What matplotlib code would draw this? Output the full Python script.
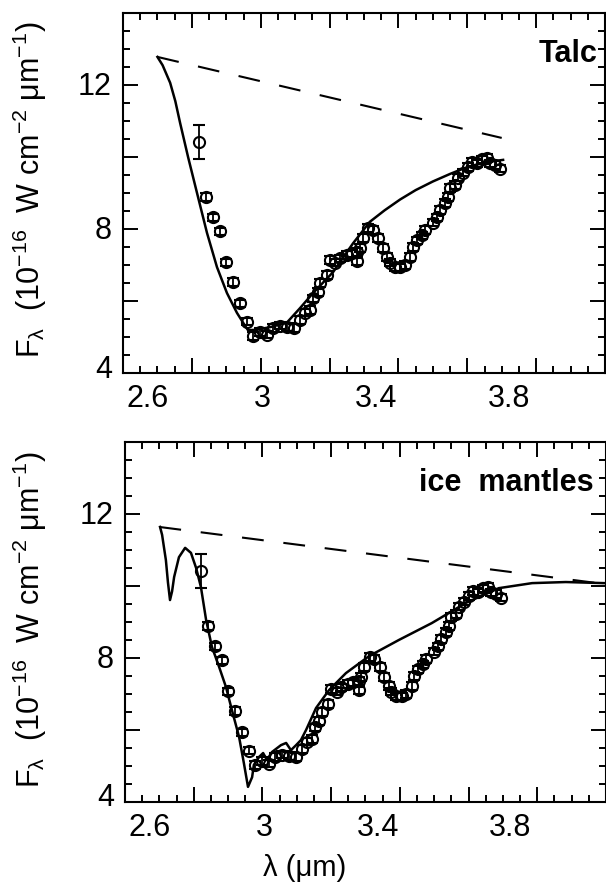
import matplotlib.pyplot as plt
from matplotlib.ticker import MultipleLocator, FuncFormatter
from matplotlib.transforms import ScaledTranslation

plt.rcParams['font.family'] = ['Liberation Sans', 'DejaVu Sans']
plt.rcParams['mathtext.default'] = 'regular'

# espectro observado (mismo en ambos paneles)
obs_wl = [2.821, 2.841, 2.861, 2.882, 2.899, 2.919, 2.940, 2.960, 2.978, 2.998,
          3.018, 3.036, 3.056, 3.076, 3.097, 3.114, 3.129, 3.143, 3.152, 3.166,
          3.172, 3.192, 3.201, 3.216, 3.230, 3.250, 3.265, 3.280, 3.280, 3.288,
          3.297, 3.312, 3.326, 3.341, 3.355, 3.367, 3.375, 3.390, 3.405, 3.419,
          3.434, 3.442, 3.454, 3.468, 3.477, 3.500, 3.512, 3.521, 3.535, 3.544,
          3.550, 3.564, 3.573, 3.588, 3.602, 3.614, 3.628, 3.643, 3.657, 3.666,
          3.680, 3.695]
obs_flux = [10.42, 8.89, 8.33, 7.94, 7.08, 6.53, 5.94, 5.42, 5.03, 5.14,
            5.06, 5.25, 5.31, 5.28, 5.25, 5.47, 5.67, 5.75, 6.08, 6.25,
            6.50, 6.72, 7.14, 7.06, 7.19, 7.28, 7.33, 7.36, 7.10, 7.47,
            7.75, 8.03, 7.97, 7.75, 7.47, 7.22, 7.06, 6.94, 6.94, 7.00,
            7.22, 7.50, 7.69, 7.83, 7.97, 8.17, 8.33, 8.53, 8.72, 8.89,
            9.14, 9.22, 9.42, 9.56, 9.72, 9.86, 9.83, 9.94, 9.97, 9.83,
            9.78, 9.67]
obs_err = [0.47] + [0.1] * (len(obs_wl) - 1)

# modelo talco
talc_wl = [2.700, 2.715, 2.737, 2.752, 2.766, 2.789, 2.815, 2.844, 2.873, 2.902,
           2.931, 2.950, 2.963, 2.990, 3.030, 3.076, 3.114, 3.152, 3.210, 3.268,
           3.317, 3.360, 3.405, 3.450, 3.500, 3.550, 3.600, 3.650, 3.704]
talc_flux = [12.78, 12.55, 12.06, 11.55, 10.94, 10.00, 9.00, 7.89, 6.94, 6.22,
             5.67, 5.38, 5.19, 5.20, 5.28, 5.40, 5.80, 6.22, 6.80, 7.60,
             8.20, 8.52, 8.82, 9.08, 9.32, 9.53, 9.72, 9.85, 9.92]
talc_cont_wl = [2.70, 3.70]
talc_cont_flux = [12.78, 10.53]

# modelo mantos de hielo
ice_wl = [2.702, 2.708, 2.713, 2.719, 2.725, 2.731, 2.737, 2.743, 2.757, 2.775,
          2.792, 2.807, 2.821, 2.836, 2.853, 2.874, 2.894, 2.911, 2.932, 2.946,
          2.958, 2.970, 2.975, 2.990, 3.002, 3.013, 3.028, 3.054, 3.069, 3.083,
          3.098, 3.112, 3.127, 3.156, 3.194, 3.243, 3.310, 3.397, 3.493, 3.592,
          3.688, 3.785, 3.883, 3.994]
ice_flux = [11.64, 11.42, 11.10, 10.72, 10.10, 9.61, 9.85, 10.25, 10.80, 11.06,
            10.92, 10.50, 9.97, 9.06, 8.31, 7.75, 7.19, 6.56, 5.81, 5.08,
            4.42, 4.69, 5.03, 5.25, 5.36, 5.17, 5.39, 5.58, 5.64, 5.44,
            5.58, 5.72, 6.00, 6.61, 7.11, 7.58, 8.05, 8.50, 8.97, 9.53,
            9.94, 10.08, 10.11, 10.08]
ice_cont_wl = [2.70, 4.00]
ice_cont_flux = [11.64, 10.05]

xlabels = {2.6: '2.6', 3.0: '3', 3.4: '3.4', 3.8: '3.8'}
ylabels = {4: '4', 8: '8', 12: '12'}
# desplazamiento (px) de las etiquetas como en la figura original
xshift = {2.6: 25, 3.0: 2, 3.4: -22, 3.8: -27}
yshift = {4: 7, 8: 2, 12: 2}


def fmt_x(v, pos):
    for k, s in xlabels.items():
        if abs(v - k) < 1e-6:
            return s
    return ''


def fmt_y(v, pos):
    for k, s in ylabels.items():
        if abs(v - k) < 1e-6:
            return s
    return ''


def mover_etiquetas(ax, fig):
    locs = ax.xaxis.get_majorticklocs()
    for loc, t in zip(locs, ax.xaxis.get_major_ticks(len(locs))):
        for k, d in xshift.items():
            if abs(loc - k) < 1e-6:
                t.label1.set_transform(t.label1.get_transform()
                                       + ScaledTranslation(d / 100, 0, fig.dpi_scale_trans))
    locs = ax.yaxis.get_majorticklocs()
    for loc, t in zip(locs, ax.yaxis.get_major_ticks(len(locs))):
        for k, d in yshift.items():
            if abs(loc - k) < 1e-6:
                t.label1.set_transform(t.label1.get_transform()
                                       + ScaledTranslation(0, d / 100, fig.dpi_scale_trans))


def panel(ax, wl, flux, cwl, cflux, name, tx):
    ax.errorbar(obs_wl, obs_flux, yerr=obs_err, fmt='o', mfc='none', mec='k',
                ecolor='k', ms=8, mew=1.5, capsize=4, elinewidth=1.3,
                capthick=1.3, zorder=2)
    ax.plot(wl, flux, color='k', lw=1.8, zorder=3)
    ax.plot(cwl, cflux, color='k', lw=1.5, dashes=(10.5, 9.5), zorder=3)
    ax.set_xlim(2.6, 4.0)
    ax.set_ylim(4, 14)
    ax.xaxis.set_major_locator(MultipleLocator(0.2))
    ax.xaxis.set_minor_locator(MultipleLocator(0.05))
    ax.yaxis.set_major_locator(MultipleLocator(2))
    ax.yaxis.set_minor_locator(MultipleLocator(0.5))
    ax.xaxis.set_major_formatter(FuncFormatter(fmt_x))
    ax.yaxis.set_major_formatter(FuncFormatter(fmt_y))
    ax.tick_params(which='both', direction='in', top=True, right=True,
                   width=1.4, labelsize=22)
    ax.tick_params(which='major', length=11, pad=8)
    ax.tick_params(which='minor', length=5)
    for s in ax.spines.values():
        s.set_linewidth(1.5)
    ax.text(tx, 0.885, name, transform=ax.transAxes, ha='right', va='center',
            fontsize=22, fontweight='bold')


fig = plt.figure(figsize=(6.06, 8.86), dpi=100)
ax1 = fig.add_axes([123 / 606, 1 - 373 / 886, 482 / 606, 360 / 886])
ax2 = fig.add_axes([125 / 606, 1 - 802 / 886, 481 / 606, 360 / 886])

panel(ax1, talc_wl, talc_flux, talc_cont_wl, talc_cont_flux, 'Talc', 0.985)
panel(ax2, ice_wl, ice_flux, ice_cont_wl, ice_cont_flux, 'ice  mantles', 0.975)
mover_etiquetas(ax1, fig)
mover_etiquetas(ax2, fig)

ylab = r'F$_λ$  (10$^{-16}$  W cm$^{-2}$ μm$^{-1}$)'
fig.text(30 / 606, 1 - 190 / 886, ylab, rotation=90, ha='center', va='center', fontsize=22)
fig.text(30 / 606, 1 - 620 / 886, ylab, rotation=90, ha='center', va='center', fontsize=22)
fig.text(305 / 606, 1 - 868 / 886, 'λ (μm)', ha='center', va='center', fontsize=21)

fig.savefig('out.png', dpi=100)
